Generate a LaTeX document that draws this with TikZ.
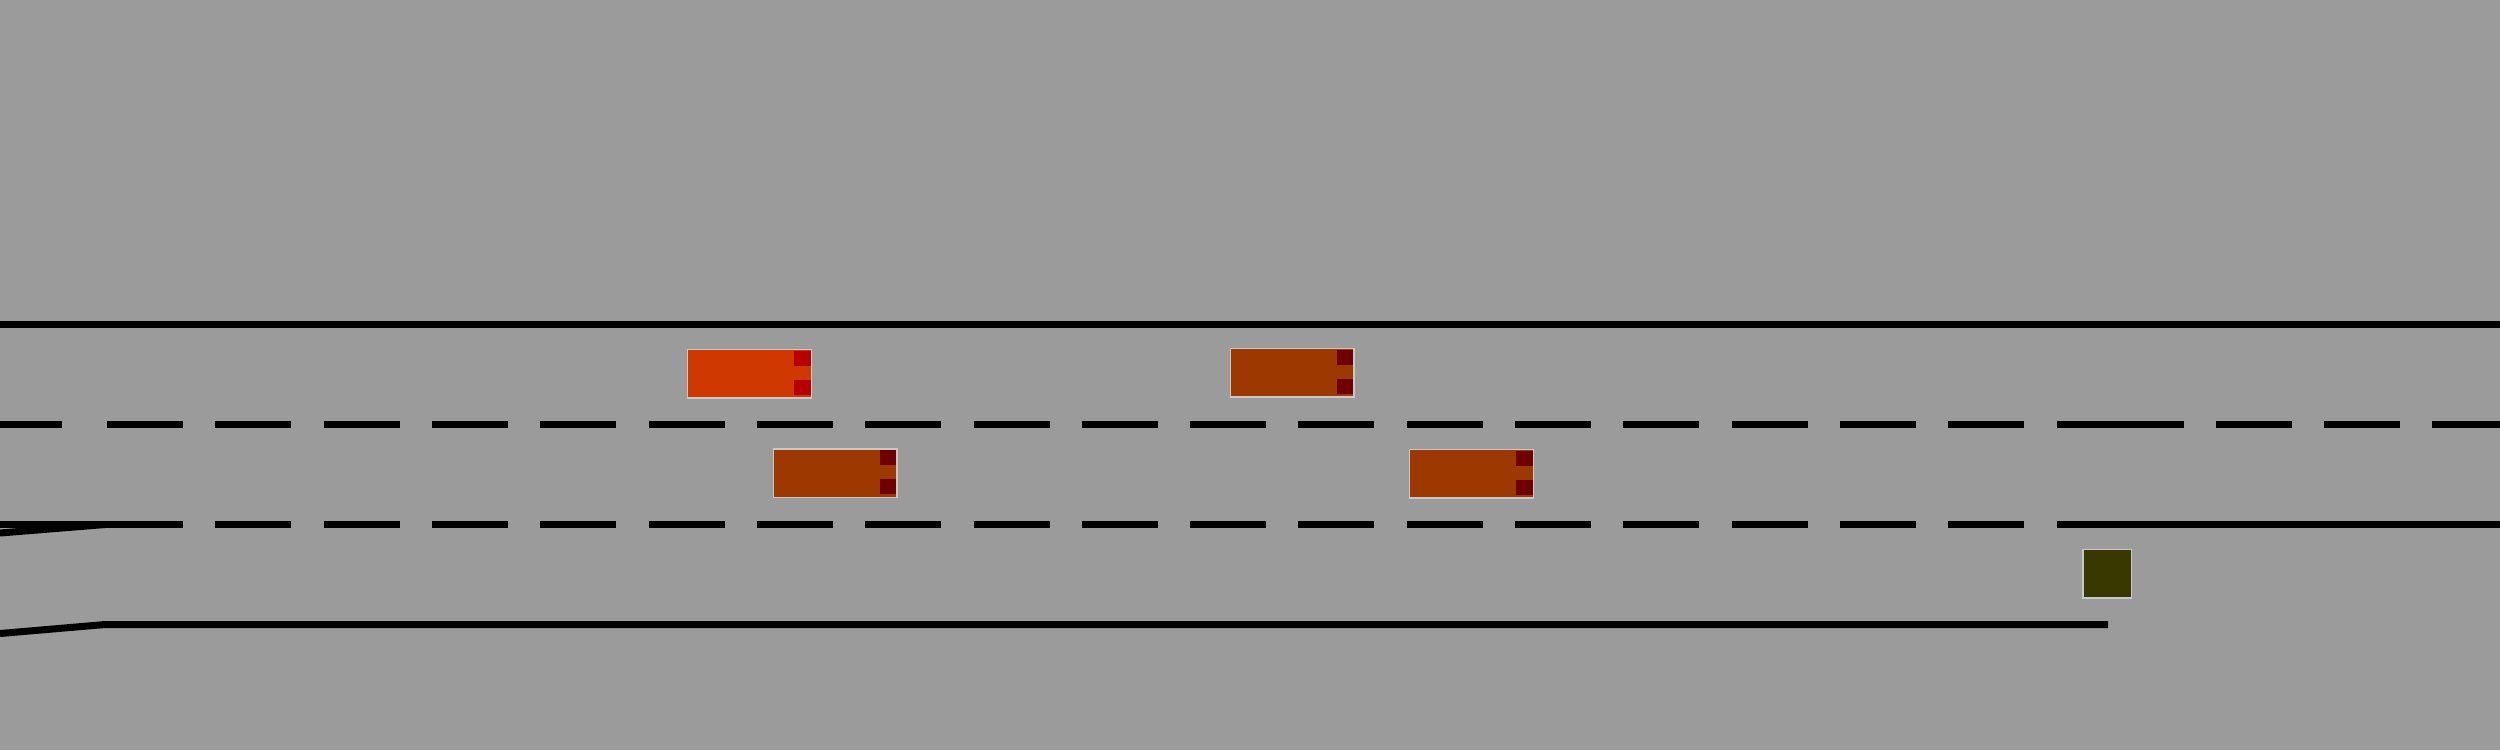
\documentclass[tikz,border=0pt]{standalone}
\usepackage{xcolor}
\usepackage{tikz}
\usetikzlibrary{positioning}
\definecolor{croad}{RGB}{155,155,155}
\definecolor{cedge}{RGB}{200,200,200}
\definecolor{cego}{RGB}{207,56,0}
\definecolor{cegolamp}{RGB}{184,0,0}
\definecolor{cother}{RGB}{156,56,0}
\definecolor{cotherlamp}{RGB}{112,0,0}
\definecolor{cobstacle}{RGB}{56,56,0}

\begin{document}
\begin{tikzpicture}[x=0.01cm, y=-0.01cm,
    % Road markings
    marking/.style={line width=0.07cm, color=black},
    lanedash/.style={marking, dash pattern=on 0.76cm off 0.3225cm},
    lanedashb/.style={marking, dash pattern=on 0.76cm off 0.32cm},
    % Vehicles
    vehicle/.style={draw=cedge, line width=0.012cm, inner sep=0pt, outer sep=0pt,
                    minimum width=1.232cm, minimum height=0.482cm},
    ego/.style={vehicle, fill=cego},
    other/.style={vehicle, fill=cother},
    lamp/.style={inner sep=0pt, outer sep=0pt, anchor=east,
                 minimum width=0.168cm, minimum height=0.148cm},
    obstacle/.style={draw=cedge, line width=0.012cm, fill=cobstacle, inner sep=0pt,
                     outer sep=0pt, minimum width=0.482cm, minimum height=0.482cm},
  ]

  % ===== Background =====
  \useasboundingbox (0,0) rectangle (2500,750);
  \fill[croad] (0,0) rectangle (2500,750);

  % ===== Lane markings =====
  \draw[marking] (0,324.5) -- (2500,324.5);
  % upper lane line
  \draw[marking] (0,424.5) -- (62,424.5);
  \draw[lanedash] (107,424.5) -- (2108,424.5);
  \draw[lanedashb] (2108,424.5) -- (2500,424.5);
  % lower lane line
  \draw[marking] (0,524.5) -- (107,524.5);
  \draw[lanedash] (107,524.5) -- (2108,524.5);
  \draw[marking] (2108,524.5) -- (2500,524.5);
  % on-ramp and bottom edge
  \draw[marking] (0,533) -- (105,524.5);
  \draw[marking] (0,633.5) -- (105,624.5) -- (2108,624.5);

  % ===== Vehicles =====
  \node[ego] (egocar) at (749.5,373.8) {};
  \node[other] (carB) at (835.3,473) {};
  \node[other] (carC) at (1292.3,372.8) {};
  \node[other] (carD) at (1471.5,473.8) {};

  % lamps at the front
  \node[lamp, fill=cegolamp] (egolampL) at ([xshift=-0.005cm,yshift=0.155cm]egocar.east) {};
  \node[lamp, fill=cegolamp] (egolampR) at ([xshift=-0.005cm,yshift=-0.135cm]egocar.east) {};
  \foreach \c in {carB,carC,carD} {
    \node[lamp, fill=cotherlamp] (\c lampL) at ([xshift=-0.005cm,yshift=0.155cm]\c.east) {};
    \node[lamp, fill=cotherlamp] (\c lampR) at ([xshift=-0.005cm,yshift=-0.135cm]\c.east) {};
  }

  % ===== Obstacle =====
  \node[obstacle] (block) at (2107,573.8) {};

\end{tikzpicture}
\end{document}
